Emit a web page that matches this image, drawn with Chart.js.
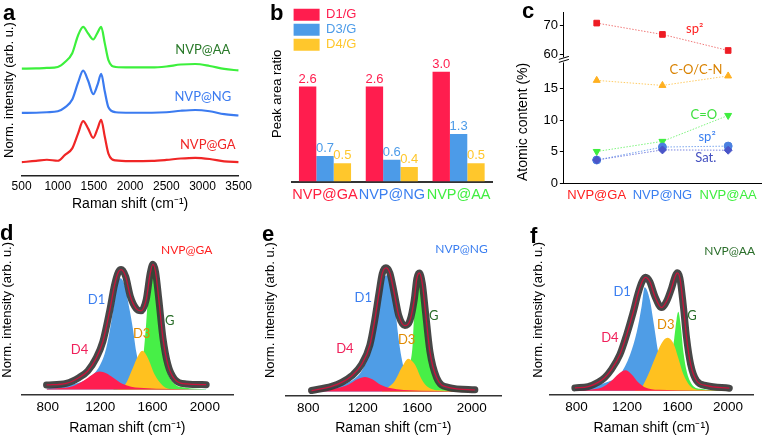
<!DOCTYPE html>
<html>
<head>
<meta charset="utf-8">
<script src="https://cdn.jsdelivr.net/npm/chart.js@4.4.0/dist/chart.umd.min.js"></script>
<style>
html,body{margin:0;padding:0;background:#fff;}
#wrap{position:relative;width:766px;height:438px;overflow:hidden;}
#wrap canvas{position:absolute;}
</style>
</head>
<body>
<div id="wrap">
  <canvas id="ca" width="255" height="212" style="left:0;top:0"></canvas>
  <canvas id="cb" width="250" height="212" style="left:255px;top:0"></canvas>
  <canvas id="cc" width="261" height="212" style="left:505px;top:0"></canvas>
  <canvas id="cd" width="255" height="223" style="left:0;top:215px"></canvas>
  <canvas id="ce" width="255" height="223" style="left:255px;top:215px"></canvas>
  <canvas id="cf" width="261" height="223" style="left:505px;top:215px"></canvas>
</div>
<script>
// ---- panel a: raw spectra (stacked, arb. units) ----
const A_SHIFT = [500,700,850,1000,1100,1200,1280,1350,1420,1490,1550,1600,1650,1700,1800,2000,2300,2500,2700,2900,3100,3300,3500];
const A_GA = [14.3,15.5,16.7,15.7,21.7,28.3,43.3,56,48.3,39,48.3,57.3,40,23,16,15.3,15.5,16.5,18,18.7,17.5,15,14.3];
const A_NG = [64.3,64.5,65,66,70,78,95,107.3,97,83.3,93,104,86,70,65,64.5,64.5,65,66.5,67.3,66,63,61.7];
const A_AA = [109.3,109.5,110,111,116,125,143,151.7,145,139,146,151.7,135,118,111,110.5,110.5,111.5,113.5,114,112,109,107.5];

// ---- panel b: peak area ratios ----
const B_CATS = ['NVP@GA','NVP@NG','NVP@AA'];
const B_D1G = [2.6,2.6,3.0];
const B_D3G = [0.7,0.6,1.3];
const B_D4G = [0.5,0.4,0.5];

// ---- panel c: atomic content (%) ----
const C_CATS = ['NVP@GA','NVP@NG','NVP@AA'];
const C_SP2 = [70.7,66.8,61.3];
const C_CO_CN = [16.3,15.5,17.0];
const C_CEQO = [5.05,6.65,10.75];
const C_SP2_LOW = [3.7,5.75,5.9];
const C_SAT = [3.7,5.3,5.25];
const C_TICKS_LOW = [0,5,10,15];
const C_TICKS_TOP = [60,70];

// ---- panels d-f: fitted Raman spectra ----
const FIT_TICKS = [800,1200,1600,2000];

const D_DATA_X = [790,940,1040,1105,1170,1220,1270,1310,1340,1360,1395,1430,1475,1512,1552,1582,1603,1623,1648,1680,1717,1768,1857,2010];
const D_DATA_Y = [10,11.7,17.7,24.3,37.7,54.3,84.3,112.7,126,128.3,121,101,88.3,86,97.7,124.3,133.7,126,97.7,57.7,31,16,11,10.3];
const D_D1_X = [790,838,1001,1119,1195,1246,1284,1310,1335,1353,1386,1424,1450,1475,1513,1552,1628,2010];
const D_D1_Y = [6,7.7,11,17.7,29.3,47.7,74.3,97.7,117.7,119.3,112.7,87.7,67.7,44.3,24.3,12.7,7.7,5.5];
const D_D4_X = [790,1001,1093,1150,1195,1245,1297,1373,1500,2010];
const D_D4_Y = [6,9.3,16,21.5,23.7,22,17.7,11,7,5.3];
const D_D3_X = [1330,1360,1394,1450,1488,1521,1564,1615,1679,1750,2010];
const D_D3_Y = [5.3,7,11,27.7,39.3,45,37.7,21,9.3,5.8,5.3];
const D_G_X = [1300,1450,1500,1530,1552,1564,1582,1603,1623,1648,1674,1704,1755,1857,2010];
const D_G_Y = [6,10,20,40,74.3,97.7,117.7,134.3,124.3,91,51,27.7,12.7,7,5.5];

const E_DATA_X = [824,971,1045,1118,1191,1252,1289,1319,1343,1370,1399,1431,1465,1509,1546,1578,1597,1615,1637,1661,1693,1742,1827,2023];
const E_DATA_Y = [5,9.3,13.3,20,31.7,51.7,78.3,105,125,131,125.7,105,81.7,71.7,76.7,98.3,120,125.7,115,85,45,18.3,8.3,5.7];
const E_D1_X = [830,996,1118,1191,1252,1289,1314,1338,1375,1411,1436,1460,1485,1521,1583,2020];
const E_D1_Y = [5.7,9,15,25,45,71.7,95,113,123.3,113,91.7,61.7,38.3,18.3,8.3,4.5];
const E_D4_X = [800,1000,1100,1160,1216,1270,1330,1400,1500,2020];
const E_D4_Y = [4.5,7,11.5,16.5,19,16.5,11,7.5,5.5,4.2];
const E_D3_X = [1340,1387,1436,1485,1534,1583,1632,1681,1778,2020];
const E_D3_Y = [5,8.3,15,28.3,37.7,31.7,16.7,8.3,5,4.2];
const E_G_X = [1400,1500,1546,1566,1578,1595,1615,1637,1657,1681,1717,1766,1876,2020];
const E_G_Y = [5,12,31.7,51.7,85,113.3,125,108.3,75,45,21.7,10,5.7,4.5];

const F_DATA_X = [787,892,971,1024,1077,1143,1196,1248,1288,1320,1346,1380,1420,1474,1514,1553,1580,1598,1619,1646,1672,1704,1751,1830,2010];
const F_DATA_Y = [7,8.3,12.7,17.7,26,41,61,84,104,116,120.3,116,101,89.3,96,109.3,121,125,119.3,91,57.7,31,14.3,9.3,6.7];
const F_D1_X = [787,907,1039,1145,1224,1277,1316,1340,1380,1414,1446,1486,1538,1657,2010];
const F_D1_Y = [6,8.3,12.7,21,41,64.3,91,110.3,97.7,71,44.3,24.3,11,6,4.3];
const F_D4_X = [790,1000,1077,1130,1188,1235,1288,1340,1450,2010];
const F_D4_Y = [4.5,7.5,14.3,21,25,21,12.7,7.7,5,4.2];
const F_D3_X = [1260,1316,1369,1422,1474,1519,1567,1606,1646,1698,1777,2010];
const F_D3_Y = [4.5,7.7,21,37.7,52.7,58.3,52.7,37.7,21,9.3,5,4.2];
const F_G_X = [1450,1520,1553,1574,1593,1606,1625,1646,1672,1712,1777,2010];
const F_G_Y = [6,20,41,57.7,77.7,85,71,44.3,24.3,11,6,4.3];

// colours
const RED = '#f02626', BLUE = '#3b7bf0', GREEN = '#3cf03c', DKGREEN = '#2a7a2a';
const C_D1 = '#4f9de6', C_D3 = '#ffc11f', C_G = '#47ef47', C_D4 = '#ff1e50';

Chart.defaults.animation = false;
Chart.defaults.responsive = false;
Chart.defaults.font.family = "'Liberation Sans', Arial, sans-serif";
Chart.defaults.color = '#000';
Chart.defaults.plugins.legend.display = false;
Chart.defaults.plugins.tooltip.enabled = false;

// text notes: data coords (x,y) or canvas coords (px,py)
Chart.register({
  id: 'notes',
  afterDatasetsDraw(chart, args, opts) {
    const ctx = chart.ctx;
    (opts.items || []).forEach(n => {
      let x, y;
      if (n.px !== undefined) { x = n.px; y = n.py; }
      else {
        x = chart.scales[n.xAxis || 'x'].getPixelForValue(n.x);
        y = chart.scales[n.yAxis || 'y'].getPixelForValue(n.y);
      }
      ctx.save();
      ctx.font = n.font;
      ctx.fillStyle = n.color || '#000';
      ctx.textAlign = n.align || 'center';
      ctx.textBaseline = n.baseline || 'middle';
      ctx.fillText(n.text, x, y);
      ctx.restore();
    });
  }
});

const pts = (xs, ys) => xs.map((x, i) => ({x: x, y: ys[i]}));
const LETTER = "bold 22px 'Liberation Sans', Arial";
const LATO = "'Lato', 'Open Sans', sans-serif";
const NOSEP = {useGrouping: false};

// ---------------- panel a ----------------
function specLine(label, ys, color) {
  return {label, data: ys, borderColor: color, borderWidth: 2.2, pointRadius: 0, cubicInterpolationMode: 'monotone', fill: false};
}
new Chart(document.getElementById('ca'), {
  type: 'line',
  data: {datasets: [specLine('NVP@AA', pts(A_SHIFT, A_AA), GREEN), specLine('NVP@NG', pts(A_SHIFT, A_NG), BLUE), specLine('NVP@GA', pts(A_SHIFT, A_GA), RED)]},
  options: {
    layout: {padding: {left: 2, right: 16, top: 4, bottom: 0}},
    scales: {
      x: {type: 'linear', min: 500, max: 3500, ticks: {stepSize: 500, padding: 3, format: NOSEP, maxRotation: 0, font: {size: 12, lineHeight: 1.2}},
          grid: {display: false, drawTicks: false}, border: {color: '#222', width: 1.5},
          title: {display: true, text: 'Raman shift (cm⁻¹)', font: {size: 14, lineHeight: 1.1}, padding: {top: 0, bottom: 0}}},
      y: {min: 0, max: 175, ticks: {display: false}, grid: {display: false, drawTicks: false}, border: {display: false},
          title: {display: true, text: 'Norm. intensity (arb. u.)', font: {size: 13, lineHeight: 1.2}, padding: {top: 0, bottom: 4}}}
    },
    plugins: {notes: {items: [
      {text: 'a', px: 3, py: 20, font: LETTER, align: 'left', baseline: 'alphabetic'},
      {text: 'NVP@AA', x: 3005, y: 128, color: DKGREEN, font: '13px ' + LATO},
      {text: 'NVP@NG', x: 3005, y: 81, color: BLUE, font: '13px ' + LATO},
      {text: 'NVP@GA', x: 3073, y: 32, color: RED, font: '13px ' + LATO}
    ]}}
  }
});

// ---------------- panel b ----------------
const B_COLORS = ['#ff1d4e', '#4c9be8', '#ffc72c'];
const B_TICK_COLORS = ['#ff2040', '#3a7ff0', '#40ee40'];
new Chart(document.getElementById('cb'), {
  type: 'bar',
  data: {labels: B_CATS, datasets: [
    {label: 'D1/G', data: B_D1G, backgroundColor: B_COLORS[0]},
    {label: 'D3/G', data: B_D3G, backgroundColor: B_COLORS[1]},
    {label: 'D4/G', data: B_D4G, backgroundColor: B_COLORS[2]}
  ]},
  options: {
    categoryPercentage: 0.78, barPercentage: 1.0,
    layout: {padding: {left: 15, right: 13, top: 6, bottom: 3}},
    scales: {
      x: {ticks: {padding: 5, maxRotation: 0, minRotation: 0, autoSkip: false, font: {size: 14.5, lineHeight: 1.2}, color: c => B_TICK_COLORS[c.index]},
          grid: {display: false, drawTicks: false}, border: {color: '#333', width: 2}},
      y: {min: 0, max: 4.8, ticks: {display: false}, grid: {display: false, drawTicks: false}, border: {display: false},
          title: {display: true, text: 'Peak area ratio', font: {size: 13, lineHeight: 1.2}, padding: {top: 0, bottom: 6}}}
    },
    plugins: {
      legend: {display: true, position: 'chartArea', align: 'start',
        title: {display: true, text: '', font: {size: 1}, padding: {top: 0, bottom: 5}},
        labels: {boxWidth: 26, boxHeight: 12, padding: 2, font: {size: 13},
          generateLabels: ch => ch.data.datasets.map((ds, i) => ({text: ds.label, fillStyle: ds.backgroundColor, strokeStyle: ds.backgroundColor, lineWidth: 0, fontColor: ds.backgroundColor, hidden: false, datasetIndex: i}))}},
      notes: {items: [{text: 'b', px: 15, py: 20, font: LETTER, align: 'left', baseline: 'alphabetic'}]}
    }
  },
  plugins: [{
    id: 'barValues',
    afterDatasetsDraw(chart) {
      const ctx = chart.ctx;
      chart.data.datasets.forEach((ds, i) => {
        chart.getDatasetMeta(i).data.forEach((bar, j) => {
          ctx.save();
          ctx.fillStyle = ds.backgroundColor;
          ctx.font = "13px 'Liberation Sans', Arial";
          ctx.textAlign = 'center';
          ctx.textBaseline = 'bottom';
          ctx.fillText(ds.data[j].toFixed(1), bar.x, bar.y - 1);
          ctx.restore();
        });
      });
    }
  }]
});

// ---------------- panel c ----------------
const C_TICK_COLORS = ['#ff2020', '#3a7ff0', '#3eee3e'];
function dotted(label, data, color, lineColor, style, axis, rot) {
  return {label, data, borderColor: lineColor, backgroundColor: color, pointBorderColor: color, pointBackgroundColor: color,
    borderWidth: 1, borderDash: [1.5, 1.5], pointStyle: style, pointRadius: 4, pointRotation: rot || 0, yAxisID: axis, fill: false};
}
new Chart(document.getElementById('cc'), {
  type: 'line',
  data: {labels: C_CATS, datasets: [
    dotted('Sat.', C_SAT, '#4a55c8', '#7a85e0', 'rectRot', 'y'),
    dotted('sp2 low', C_SP2_LOW, '#4a80e0', '#7aa5ee', 'circle', 'y'),
    dotted('C=O', C_CEQO, '#3eee3e', '#7ef47e', 'triangle', 'y', 180),
    dotted('C-O/C-N', C_CO_CN, '#ffb020', '#ffcc66', 'triangle', 'y'),
    dotted('sp2', C_SP2, '#ee1c24', '#f07878', 'rect', 'yTop')
  ]},
  options: {
    layout: {padding: {left: 8, right: 3, top: 12, bottom: 5}},
    scales: {
      x: {offset: true, ticks: {padding: 4, maxRotation: 0, autoSkip: false, font: {size: 13, lineHeight: 1.2}, color: c => C_TICK_COLORS[c.index]},
          grid: {display: false, drawTicks: false}, border: {color: '#000', width: 1}},
      y: {stack: 'c', stackWeight: 122, min: 0, max: 19.46,
          afterBuildTicks: s => { s.ticks = C_TICKS_LOW.map(v => ({value: v})); },
          ticks: {padding: 2, font: {size: 13, lineHeight: 1.2}},
          grid: {display: true, drawOnChartArea: false, drawTicks: true, tickLength: 4, color: '#000'}, border: {color: '#000', width: 1},
          title: {display: true, text: 'Atomic content (%)', font: {size: 14, lineHeight: 1.2}, padding: {top: 1.6, bottom: 10}}},
      yTop: {stack: 'c', stackWeight: 48, min: 57.9, max: 74.5, position: 'left',
          afterBuildTicks: s => { s.ticks = C_TICKS_TOP.map(v => ({value: v})); },
          ticks: {padding: 2, font: {size: 13, lineHeight: 1.2}},
          grid: {display: true, drawOnChartArea: false, drawTicks: true, tickLength: 4, color: '#000'}, border: {color: '#000', width: 1}}
    },
    plugins: {notes: {items: [
      {text: 'c', px: 17, py: 18, font: LETTER, align: 'left', baseline: 'alphabetic'},
      {text: 'sp²', x: 1.49, y: 68.6, yAxis: 'yTop', color: '#ff2020', font: '13px ' + LATO},
      {text: 'C-O/C-N', x: 1.51, y: 17.9, color: '#d98200', font: '13px ' + LATO},
      {text: 'C=O', x: 1.63, y: 10.8, color: '#3ee03e', font: '13px ' + LATO},
      {text: 'sp²', x: 1.68, y: 7.3, color: '#3a7ff0', font: '13px ' + LATO},
      {text: 'Sat.', x: 1.66, y: 4.1, color: '#4450c0', font: '13px ' + LATO}
    ]}}
  },
  plugins: [{
    id: 'axisBreak',
    afterDraw(chart) {
      const ctx = chart.ctx, s = chart.scales.yTop;
      const x = s.right, y = s.bottom;
      ctx.save();
      ctx.fillStyle = '#fff';
      ctx.fillRect(x - 5, y - 3, 10, 5);
      ctx.strokeStyle = '#000';
      ctx.lineWidth = 1;
      ctx.beginPath();
      ctx.moveTo(x - 5, y - 1); ctx.lineTo(x + 5, y - 4);
      ctx.moveTo(x - 5, y + 2); ctx.lineTo(x + 5, y - 1);
      ctx.stroke();
      ctx.restore();
    }
  }]
});

// ---------------- panels d, e, f ----------------
function fitChart(id, s) {
  const area = (label, xs, ys, color, order) => ({label, data: pts(xs, ys), borderColor: color, backgroundColor: color, borderWidth: 0,
    pointRadius: 0, cubicInterpolationMode: 'monotone', fill: {value: s.base}, order});
  new Chart(document.getElementById(id), {
    type: 'line',
    data: {datasets: [
      {label: 'fit', data: pts(s.dataX, s.dataY), borderColor: '#c8143c', borderWidth: 1.3, pointRadius: 0, cubicInterpolationMode: 'monotone', fill: false, order: 0},
      {label: 'data', data: pts(s.dataX, s.dataY), borderColor: 'rgba(55,55,55,0.92)', borderWidth: 7, borderCapStyle: 'round', pointRadius: 0, cubicInterpolationMode: 'monotone', fill: false, order: 1},
      area('D4', s.d4X, s.d4Y, C_D4, 2),
      area('D3', s.d3X, s.d3Y, C_D3, 3),
      area('G', s.gX, s.gY, C_G, 4),
      area('D1', s.d1X, s.d1Y, C_D1, 5)
    ]},
    options: {
      layout: {padding: s.pad},
      scales: {
        x: {type: 'linear', min: s.min, max: s.max,
            afterBuildTicks: sc => { sc.ticks = FIT_TICKS.map(v => ({value: v})); },
            ticks: {padding: 4.6, format: NOSEP, maxRotation: 0, font: {size: 13.5, lineHeight: 1.2}},
            grid: {display: false, drawTicks: false}, border: {color: '#333', width: 1.5},
            title: {display: true, text: 'Raman shift (cm⁻¹)', font: {size: 14, lineHeight: 1.1}, padding: {top: 0, bottom: 0}}},
        y: {min: 0, max: s.ymax, ticks: {display: false}, grid: {display: false, drawTicks: false}, border: {display: false},
            title: {display: true, text: 'Norm. intensity (arb. u.)', font: {size: 13, lineHeight: 1.2}, padding: {top: 0, bottom: s.titleGap}}}
      },
      plugins: {notes: {items: s.notes}}
    }
  });
}

fitChart('cd', {
  dataX: D_DATA_X, dataY: D_DATA_Y, d1X: D_D1_X, d1Y: D_D1_Y, d4X: D_D4_X, d4Y: D_D4_Y, d3X: D_D3_X, d3Y: D_D3_Y, gX: D_G_X, gY: D_G_Y,
  base: 5.3, min: 600, max: 2215, ymax: 174, titleGap: 6.1, pad: {left: 0, right: 22, top: 10, bottom: 2.5},
  notes: [
    {text: 'd', px: 0, py: 25, font: LETTER, align: 'left', baseline: 'alphabetic'},
    {text: 'NVP@GA', x: 1861, y: 148, color: '#ff2020', font: '12px ' + LATO},
    {text: 'D1', x: 1172, y: 97, color: '#3a7ef0', font: '13px ' + LATO},
    {text: 'D3', x: 1517, y: 62, color: '#e08a00', font: '13px ' + LATO},
    {text: 'G', x: 1731, y: 76, color: '#2a6e2a', font: '13px ' + LATO},
    {text: 'D4', x: 1042, y: 46, color: '#f0205a', font: '13px ' + LATO}
  ]
});
fitChart('ce', {
  dataX: E_DATA_X, dataY: E_DATA_Y, d1X: E_D1_X, d1Y: E_D1_Y, d4X: E_D4_X, d4Y: E_D4_Y, d3X: E_D3_X, d3Y: E_D3_Y, gX: E_G_X, gY: E_G_Y,
  base: 4, min: 634, max: 2215, ymax: 175, titleGap: 7.9, pad: {left: 7.2, right: 9, top: 10, bottom: 1.8},
  notes: [
    {text: 'e', px: 7, py: 26, font: LETTER, align: 'left', baseline: 'alphabetic'},
    {text: 'NVP@NG', x: 1925, y: 150.7, color: '#3a7ef0', font: '12px ' + LATO},
    {text: 'D1', x: 1204, y: 100, color: '#3a7ef0', font: '13px ' + LATO},
    {text: 'D3', x: 1522, y: 57.3, color: '#e08a00', font: '13px ' + LATO},
    {text: 'G', x: 1722, y: 81.7, color: '#2a6e2a', font: '13px ' + LATO},
    {text: 'D4', x: 1069, y: 48.3, color: '#f0205a', font: '13px ' + LATO}
  ]
});
fitChart('cf', {
  dataX: F_DATA_X, dataY: F_DATA_Y, d1X: F_D1_X, d1Y: F_D1_Y, d4X: F_D4_X, d4Y: F_D4_Y, d3X: F_D3_X, d3Y: F_D3_Y, gX: F_G_X, gY: F_G_Y,
  base: 4, min: 590, max: 2200, ymax: 174, titleGap: 4.2, pad: {left: 25.2, right: 12.7, top: 10, bottom: 2.5},
  notes: [
    {text: 'f', px: 25, py: 28, font: LETTER, align: 'left', baseline: 'alphabetic'},
    {text: 'NVP@AA', x: 2013, y: 147.7, color: '#2a6e2a', font: '12px ' + LATO},
    {text: 'D1', x: 1161, y: 106, color: '#3a7ef0', font: '13px ' + LATO},
    {text: 'D3', x: 1507, y: 72, color: '#e08a00', font: '13px ' + LATO},
    {text: 'G', x: 1715, y: 81, color: '#2a6e2a', font: '13px ' + LATO},
    {text: 'D4', x: 1064, y: 58.3, color: '#f0205a', font: '13px ' + LATO}
  ]
});
</script>
</body>
</html>
